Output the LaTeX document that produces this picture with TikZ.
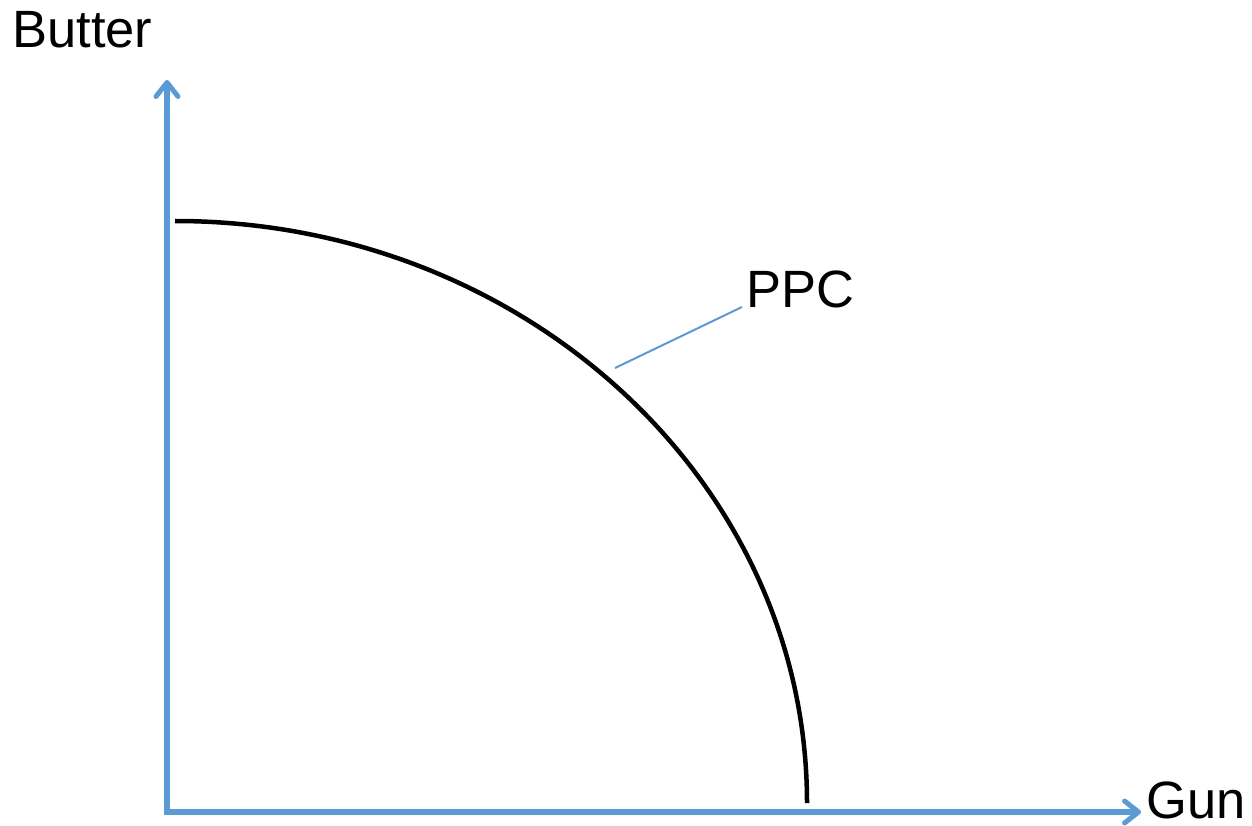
\documentclass[tikz,border=0pt]{standalone}
\usepackage{fontspec}
\setmainfont{Liberation Sans}
\usetikzlibrary{arrows.meta}
\definecolor{axisblue}{RGB}{91,155,213}
\tikzset{
  axis/.style={draw=axisblue, line width=5.5pt, -{Straight Barb[length=14pt,width=22pt,line width=5pt,round]}},
  curve/.style={draw=black, line width=4.5pt},
  leader/.style={draw=axisblue, line width=2pt},
  lbl/.style={font=\fontsize{52.5}{60}\selectfont, inner sep=0pt, anchor=base west}
}
\begin{document}
\begin{tikzpicture}[x=1pt,y=-1pt]
\useasboundingbox (0,0) rectangle (1252,826);
\coordinate (origin) at (167,812);
\coordinate (ytop) at (167,80);
\coordinate (xend) at (1141,812);
\draw[axis] (167,815) -- (ytop);
\draw[axis] (164,812) -- (xend);
\coordinate (cstart) at (175,221);
\draw[curve] (cstart) arc[start angle=-90, end angle=0, x radius=632, y radius=582] coordinate (cend);
\node[lbl] (butter) at (12,48) {Butter};
\node[lbl] (gun) at (1146,818) {Gun};
\node[lbl] (ppc) at (746,307) {PPC};
\coordinate (lstart) at (615,368);
\coordinate (lend) at (742,307);
\draw[leader] (lstart) -- (lend);
\end{tikzpicture}
\end{document}
